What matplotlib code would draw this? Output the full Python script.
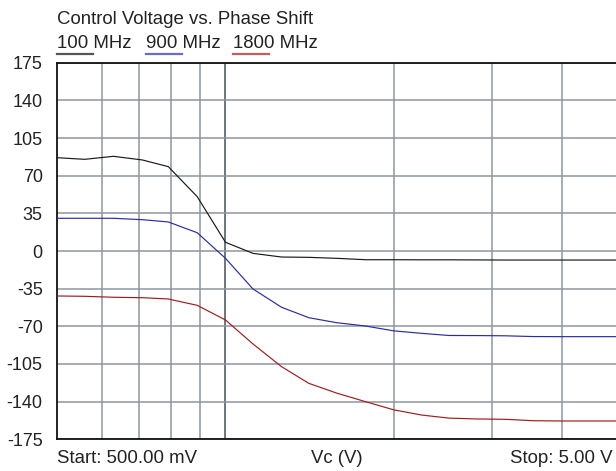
import matplotlib
matplotlib.use('Agg')
import matplotlib.pyplot as plt
from matplotlib.lines import Line2D

plt.rcParams['font.family'] = ['Liberation Sans', 'DejaVu Sans']
plt.rcParams['axes.unicode_minus'] = False

# control voltage (V), log spaced sweep
vc = [0.5, 0.56, 0.63, 0.71, 0.79, 0.89, 1.0, 1.12, 1.26, 1.41, 1.58,
      1.78, 2.0, 2.24, 2.51, 2.82, 3.16, 3.55, 3.98, 4.47, 5.0]

# phase shift (deg)
ph_100 = [86.7, 85.2, 88.0, 84.6, 78.4, 50.5, 8.1, -2.2, -5.6, -5.9, -6.8,
          -8.1, -8.1, -8.2, -8.2, -8.3, -8.4, -8.4, -8.4, -8.4, -8.4]
ph_900 = [30.4, 30.4, 30.4, 29.1, 27.0, 17.0, -6.8, -35.3, -52.3, -62.0, -66.6,
          -69.7, -74.2, -76.5, -78.5, -78.6, -78.8, -79.5, -79.6, -79.6, -79.6]
ph_1800 = [-41.8, -42.1, -43.0, -43.4, -44.6, -50.5, -64.1, -86.4, -107.5, -123.0, -132.0,
           -140.0, -147.6, -152.4, -155.3, -156.1, -156.4, -157.7, -158.0, -158.0, -158.0]

series = ['100 MHz', '900 MHz', '1800 MHz']
y_ticks = [175, 140, 105, 70, 35, 0, -35, -70, -105, -140, -175]
grid_minor = [0.6, 0.7, 0.8, 0.9, 2, 3, 4]
grid_major = [1]

W, H = 616, 471
fig = plt.figure(figsize=(W / 100, H / 100), dpi=100)
ax = fig.add_axes([57.3 / W, 31.7 / H, 558.7 / W, 376.6 / H])

line_cols = ['#1a1a1a', '#2b2ba6', '#a01c1c']
leg_cols = ['#555555', '#6b6bc6', '#bf5f5f']

for ys, c in zip([ph_100, ph_900, ph_1800], line_cols):
    ax.plot(vc, ys, color=c, lw=0.85, zorder=3)

ax.set_xscale('log')
ax.set_xlim(0.5, 5.0)
ax.set_ylim(-175, 175)
ax.set_yticks(y_ticks)
ax.set_xticks(grid_major)
ax.set_xticks(grid_minor, minor=True)
ax.set_xticklabels([])
ax.set_xticklabels([], minor=True)
ax.tick_params(axis='both', which='both', length=0)
ax.tick_params(axis='y', labelsize=13, pad=10.5, labelcolor='#222222')
ax.grid(True, which='minor', axis='x', color='#8d969e', lw=1.1)
ax.grid(True, which='major', axis='x', color='#6c757d', lw=1.4)
ax.grid(True, which='major', axis='y', color='#8d969e', lw=1.1)
ax.set_axisbelow(True)

for s in ['left', 'bottom', 'top']:
    ax.spines[s].set_color('#111111')
    ax.spines[s].set_linewidth(1.3)
ax.spines['right'].set_visible(False)

# bottom labels
tsz = 13.4
yb = -0.063
ax.text(0.0, yb, 'Start: 500.00 mV', transform=ax.transAxes, ha='left', va='baseline',
        fontsize=tsz, color='#222222')
ax.text(0.5, yb, 'Vc (V)', transform=ax.transAxes, ha='center', va='baseline',
        fontsize=tsz, color='#222222')
ax.text(0.993, yb, 'Stop: 5.00 V', transform=ax.transAxes, ha='right', va='baseline',
        fontsize=tsz, color='#222222')

# title and legend above the plot
fig.text(57.3 / W, 1 - 24 / H, 'Control Voltage vs. Phase Shift', ha='left',
         va='baseline', fontsize=tsz, color='#222222')
leg_x = [57.3, 145.7, 233.3]
for name, x0, c in zip(series, leg_x, leg_cols):
    fig.text(x0 / W, 1 - 47.7 / H, name, ha='left', va='baseline', fontsize=tsz,
             color='#222222')
    fig.add_artist(Line2D([x0 / W, (x0 + 36) / W], [1 - 54.3 / H, 1 - 54.3 / H],
                          color=c, lw=1.6, transform=fig.transFigure))

fig.savefig('out.png', dpi=100)
